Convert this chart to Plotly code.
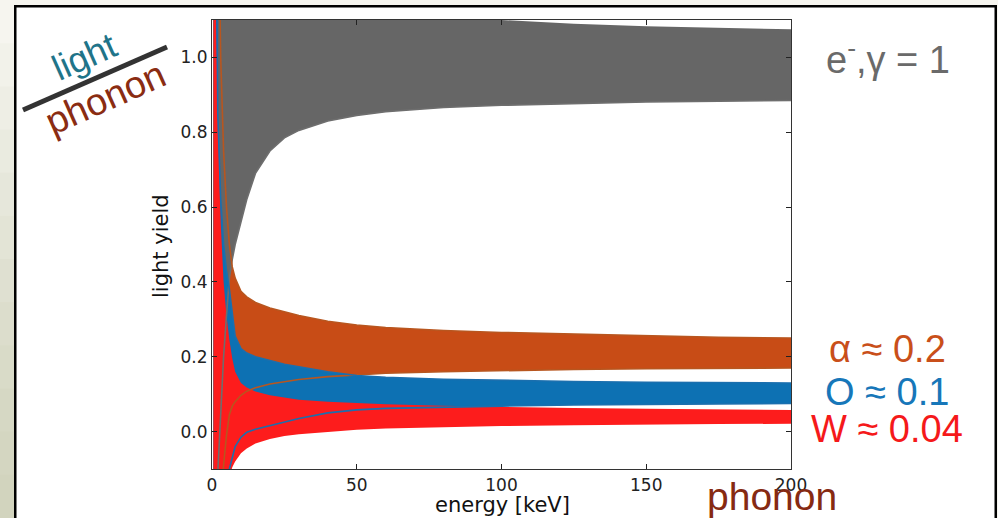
import plotly.graph_objects as go

# ---------------- data ----------------
energy = [0.5, 1, 2, 3, 4, 5, 6, 7, 8, 10, 12, 15, 20, 25, 30, 40, 50, 60, 80, 100, 125, 150, 175, 200]

gamma_lo = [-2.0, -0.6, -0.11, 0.06, 0.2, 0.31, 0.41, 0.46, 0.50, 0.56, 0.62, 0.69, 0.75, 0.785, 0.805, 0.83, 0.845, 0.855, 0.866, 0.872, 0.877, 0.881, 0.883, 0.885]
gamma_hi = [4.0, 2.5, 2.0, 1.9, 1.75, 1.65, 1.55, 1.5, 1.45, 1.4, 1.35, 1.3, 1.24, 1.2, 1.18, 1.15, 1.135, 1.125, 1.11, 1.10, 1.09, 1.083, 1.078, 1.075]

alpha_lo = [-3.0, -1.0, -0.5, -0.22, -0.09, -0.01, 0.045, 0.068, 0.08, 0.097, 0.108, 0.117, 0.127, 0.133, 0.139, 0.147, 0.152, 0.156, 0.16, 0.163, 0.166, 0.168, 0.169, 0.17]
alpha_hi = [4.0, 3.0, 1.5, 1.0, 0.75, 0.6, 0.5, 0.44, 0.41, 0.375, 0.36, 0.345, 0.33, 0.32, 0.31, 0.295, 0.285, 0.278, 0.27, 0.265, 0.26, 0.255, 0.252, 0.25]

oxygen_lo = [-3.0, -0.8, -0.5, -0.35, -0.25, -0.16, -0.1, -0.072, -0.04, -0.015, -0.002, 0.006, 0.016, 0.027, 0.035, 0.05, 0.058, 0.062, 0.066, 0.068, 0.071, 0.073, 0.074, 0.075]
oxygen_hi = [4.0, 1.8, 0.85, 0.62, 0.5, 0.43, 0.38, 0.31, 0.255, 0.222, 0.21, 0.2, 0.19, 0.18, 0.173, 0.16, 0.15, 0.145, 0.14, 0.137, 0.134, 0.132, 0.131, 0.13]

tungsten_lo = [-3.0, -1.0, -0.5, -0.3, -0.2, -0.15, -0.12, -0.095, -0.08, -0.058, -0.045, -0.032, -0.02, -0.012, -0.007, 0.0, 0.005, 0.008, 0.012, 0.015, 0.017, 0.019, 0.02, 0.021]
tungsten_hi = [4.0, 1.3, 0.85, 0.56, 0.40, 0.31, 0.245, 0.195, 0.16, 0.13, 0.118, 0.107, 0.097, 0.09, 0.085, 0.08, 0.076, 0.073, 0.069, 0.066, 0.063, 0.061, 0.059, 0.058]

x_ticks = [0, 50, 100, 150, 200]
y_ticks = [0.0, 0.2, 0.4, 0.6, 0.8, 1.0]

# ---------------- styling ----------------
C_GRAY = "#666666"
C_ORANGE = "#c84c16"
C_BLUE = "#0d71b3"
C_RED = "#fd1c1c"

W, H = 998, 518
PL, PR, PT, PB = 212, 791, 20, 469   # plot area in pixels


def fx(px):
    return (px - PL) / (PR - PL)


def fy(py):
    return (PB - py) / (PB - PT)


fig = go.Figure()


def band(lo, hi, color):
    fig.add_trace(go.Scatter(x=energy, y=lo, mode="lines", line=dict(width=0, color=color),
                             hoverinfo="skip", showlegend=False))
    fig.add_trace(go.Scatter(x=energy, y=hi, mode="lines", line=dict(width=0, color=color),
                             fill="tonexty", fillcolor=color, hoverinfo="skip", showlegend=False))


band(alpha_lo, alpha_hi, C_ORANGE)
band(gamma_lo, gamma_hi, C_GRAY)
band(oxygen_lo, oxygen_hi, C_BLUE)
band(tungsten_lo, tungsten_hi, C_RED)

# edge lines drawn on top
for ys, col in [(gamma_lo, "#6e6e6e"), (alpha_lo, "#b8561f"), (alpha_hi, "#b8561f"),
                (oxygen_lo, "#1b6fae"), (oxygen_hi, "#1b6fae")]:
    fig.add_trace(go.Scatter(x=energy, y=ys, mode="lines", line=dict(width=1.6, color=col),
                             hoverinfo="skip", showlegend=False))

axis_common = dict(showline=True, linecolor="#333333", linewidth=1.2, mirror="ticks",
                   ticks="inside", ticklen=5, tickcolor="#222222", showgrid=False, zeroline=False,
                   tickfont=dict(family="DejaVu Sans", size=17, color="#222222"))

fig.update_xaxes(range=[0, 200], tickvals=x_ticks, ticktext=[str(v) for v in x_ticks], **axis_common)
fig.update_yaxes(range=[-0.1, 1.1], tickvals=y_ticks, ticktext=["%.1f" % v for v in y_ticks], **axis_common)

shapes = []
# outside-of-slide background (top strip and left gradient strip)
shapes.append(dict(type="rect", xref="paper", yref="paper", x0=fx(0), x1=fx(W), y0=fy(0), y1=fy(6),
                   fillcolor="#f6f5ef", line=dict(width=0), layer="above"))
grad = ["#f6f5ef", "#f2f2ea", "#eeeee5", "#eaebe0", "#e6e7db", "#e3e4d6", "#dfe0d1", "#dcddcc",
        "#d9dbc8", "#d6d8c4", "#d4d6c1", "#d2d4be"]
n = len(grad)
for i, c in enumerate(grad):
    shapes.append(dict(type="rect", xref="paper", yref="paper", x0=fx(0), x1=fx(14),
                       y0=fy(i * H / n), y1=fy((i + 1) * H / n + 1),
                       fillcolor=c, line=dict(width=0), layer="above"))
shapes.append(dict(type="rect", xref="paper", yref="paper", x0=fx(997), x1=fx(W), y0=fy(0), y1=fy(H),
                   fillcolor="#f6f5ef", line=dict(width=0), layer="above"))
# slide border
shapes.append(dict(type="rect", xref="paper", yref="paper", x0=fx(14), x1=fx(997), y0=fy(5), y1=fy(7.5),
                   fillcolor="black", line=dict(width=0), layer="above"))
shapes.append(dict(type="rect", xref="paper", yref="paper", x0=fx(14), x1=fx(16.5), y0=fy(5), y1=fy(H),
                   fillcolor="black", line=dict(width=0), layer="above"))
shapes.append(dict(type="rect", xref="paper", yref="paper", x0=fx(994.5), x1=fx(997), y0=fy(5), y1=fy(H),
                   fillcolor="black", line=dict(width=0), layer="above"))
# fraction bar of light/phonon
shapes.append(dict(type="line", xref="paper", yref="paper", x0=fx(23), y0=fy(110), x1=fx(167), y1=fy(47),
                   line=dict(color="#333333", width=5), layer="above"))

annotations = []


def label(text, px, py, size, color, family="Liberation Sans", angle=0):
    annotations.append(dict(text=text, x=fx(px), y=fy(py), xref="paper", yref="paper",
                            showarrow=False, xanchor="center", yanchor="middle", textangle=angle,
                            font=dict(family=family, size=size, color=color)))


label("energy [keV]", 502, 505, 21, "#111111", family="DejaVu Sans")
label("light yield", 161, 246, 21, "#111111", family="DejaVu Sans", angle=-90)

label("e<sup>-</sup>,γ = 1", 888, 57, 38, "#6a6a6a")
label("α ≈ 0.2", 887, 349, 38, "#c94f1a")
label("O ≈ 0.1", 887, 392, 38, "#1777b9")
label("W ≈ 0.04", 887, 429, 38, "#f5191a")

label("phonon", 772, 496, 39, "#862a12")
label("light", 84, 56, 36, "#1f7489", angle=-24)
label("phonon", 105, 98, 38, "#8a2c12", angle=-24)

fig.update_layout(
    width=W, height=H,
    margin=dict(l=PL, r=W - PR, t=PT, b=H - PB, pad=0),
    paper_bgcolor="white", plot_bgcolor="white",
    shapes=shapes, annotations=annotations,
    showlegend=False,
)

fig.write_html("out.html", config={"displayModeBar": False},
               post_script="document.body.style.margin='0';document.body.style.overflow='hidden';")
